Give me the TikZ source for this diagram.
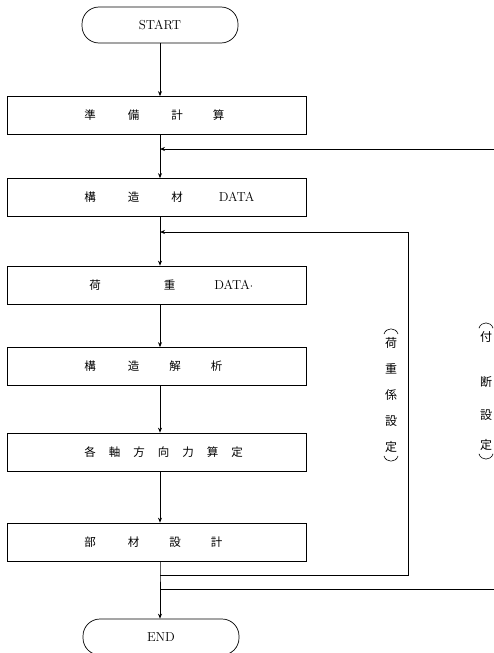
\documentclass[tikz,border=0pt]{standalone}
\usepackage{fontspec}
\newfontfamily\cjk{Noto Sans CJK JP}
\usetikzlibrary{arrows.meta}
\begin{document}
\begin{tikzpicture}[x=1pt,y=-1pt,
  line width=0.7pt,
  box/.style={draw, rectangle, minimum width=299pt, minimum height=38pt, inner sep=0pt},
  term/.style={draw, rectangle, rounded corners=17pt, minimum width=156pt, minimum height=36pt, inner sep=0pt, font=\fontsize{13}{15}\selectfont},
  lbl/.style={anchor=west, inner sep=0pt, font=\cjk\fontsize{11.5}{14}\selectfont},
  vlbl/.style={align=center, inner sep=0pt, font=\cjk\fontsize{12}{26}\selectfont},
  vlblb/.style={align=center, inner sep=0pt, font=\cjk\fontsize{12}{12}\selectfont},
  paren/.style={line width=0.6pt},
  arr/.style={-{Stealth[length=5pt,width=4pt]}}]
\useasboundingbox (0,0) rectangle (493,653);

% terminals
\node[term] (s) at (160,25) {START};
\node[term] (e) at (161,637) {END};

% process boxes
\node[box] (b1) at (156.5,115.5) {};
\node[box] (b2) at (156.5,197.5) {};
\node[box] (b3) at (156.5,285) {};
\node[box] (b4) at (156.5,366.5) {};
\node[box] (b5) at (156.5,452) {};
\node[box] (b6) at (156.5,542) {};

% box texts
\node[lbl] (t1) at (84,115.5) {準\hspace{32pt}備\hspace{32pt}計\hspace{30pt}算};
\node[lbl] (t2) at (84,197.5) {構\hspace{32pt}造\hspace{32pt}材\hspace{36pt}{\rmfamily\fontsize{13}{15}\selectfont DATA}};
\node[lbl] (t3) at (89,285) {荷\hspace{63pt}重\hspace{39pt}{\rmfamily\fontsize{13}{15}\selectfont DATA$\cdot$}};
\node[lbl] (t4) at (84,366.5) {構\hspace{32pt}造\hspace{30pt}解\hspace{30pt}析};
\node[lbl] (t5) at (84,452) {各\hspace{13pt}軸\hspace{13pt}方\hspace{13pt}向\hspace{13pt}力\hspace{13pt}算\hspace{13pt}定};
\node[lbl] (t6) at (84,542) {部\hspace{32pt}材\hspace{30pt}設\hspace{30pt}計};

% vertical side labels
\node[vlbl] (v1) at (391,395) {荷\\重\\係\\設\\定};
\node[vlblb] (v2) at (486,391) {付\\[33pt]断\\[21pt]設\\[18pt]定};

% drawn vertical parentheses
\draw[paren] ([xshift=-7pt,yshift=3pt]v1.north) .. controls ([xshift=-5pt,yshift=10pt]v1.north) and ([xshift=5pt,yshift=10pt]v1.north) .. ([xshift=7pt,yshift=3pt]v1.north);
\draw[paren] ([xshift=-7pt,yshift=-3pt]v1.south) .. controls ([xshift=-5pt,yshift=-10pt]v1.south) and ([xshift=5pt,yshift=-10pt]v1.south) .. ([xshift=7pt,yshift=-3pt]v1.south);
\draw[paren] ([xshift=-7pt,yshift=3pt]v2.north) .. controls ([xshift=-5pt,yshift=10pt]v2.north) and ([xshift=5pt,yshift=10pt]v2.north) .. ([xshift=7pt,yshift=3pt]v2.north);
\draw[paren] ([xshift=-7pt,yshift=-3pt]v2.south) .. controls ([xshift=-5pt,yshift=-10pt]v2.south) and ([xshift=5pt,yshift=-10pt]v2.south) .. ([xshift=7pt,yshift=-3pt]v2.south);

% junction coordinates on the main line
\coordinate (j1) at (160,149);
\coordinate (j2) at (160,232);
\coordinate (j3) at (160,575);
\coordinate (j4) at (160,589);
\coordinate (r1) at (500,149);
\coordinate (r4) at (500,589);
\coordinate (c1) at (408,232);
\coordinate (c3) at (408,575);

% main flow
\draw[arr] (s.south) -- (s.south |- b1.north);
\draw (s.south |- b1.south) -- (j1);
\draw[arr] (j1) -- (j1 |- b2.north);
\draw (j1 |- b2.south) -- (j2);
\draw[arr] (j2) -- (j2 |- b3.north);
\draw[arr] (j2 |- b3.south) -- (j2 |- b4.north);
\draw[arr] (j2 |- b4.south) -- (j2 |- b5.north);
\draw[arr] (j2 |- b5.south) -- (j2 |- b6.north);
\draw (j2 |- b6.south) -- (j3) -- (j4);
\draw[arr] (j4) -- (e.north -| j4);

% feedback loops
\draw[arr] (r1) -- (j1);
\draw[arr] (j3) -- (c3) -- (c1) -- (j2);
\draw (j4) -- (r4);
\end{tikzpicture}
\end{document}
